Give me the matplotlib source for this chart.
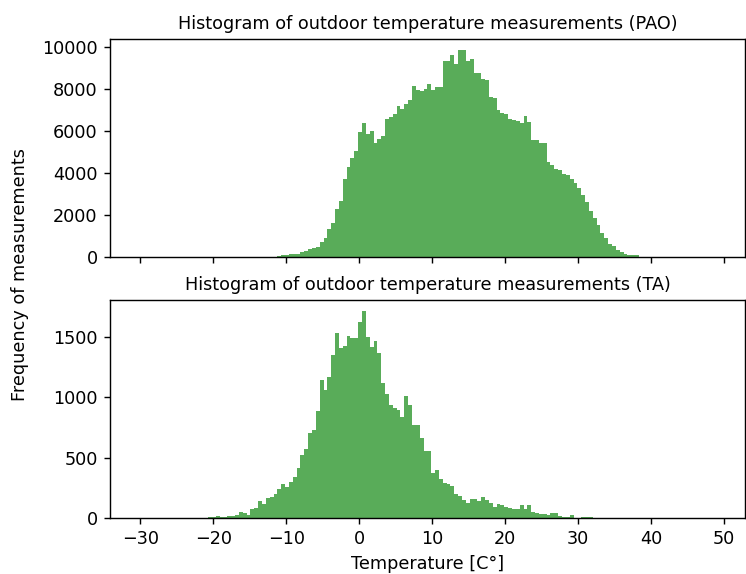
import numpy as np
import matplotlib
matplotlib.use("Agg")
import matplotlib.pyplot as plt

# shared binning of both histograms (150 bins)
bin_edges = np.linspace(-30.2, 48.85, 151)

# PAO counts, starting at bin index 36
pao_first_bin = 36
pao_counts = [40, 70, 110, 120, 125, 135, 240, 300, 360, 420,
              470, 730, 920, 1340, 1610, 2280, 2640, 3680, 4250, 4690,
              5040, 5940, 6350, 5860, 5990, 5400, 5620, 5750, 6540, 6650,
              6800, 7160, 7040, 7260, 7450, 8140, 7940, 7900, 7990, 8200,
              7940, 8090, 8060, 9290, 9320, 9590, 9170, 9850, 9850, 9300,
              9420, 8750, 8740, 8450, 8430, 7580, 7570, 6980, 6850, 6790,
              6540, 6520, 6480, 6350, 6710, 6400, 5560, 5550, 5430, 5420,
              4530, 4380, 4170, 4140, 3930, 3870, 3700, 3510, 3270, 2950,
              2590, 2160, 1850, 1530, 1140, 900, 630, 505, 350, 220,
              140, 95, 80, 70]

# TA counts, starting at bin index 18
ta_first_bin = 18
ta_counts = [5, 4, 16, 11, 12, 16, 18, 27, 49, 38,
             22, 71, 82, 137, 115, 165, 176, 195, 236, 280,
             258, 299, 341, 412, 522, 571, 703, 725, 884, 1143,
             1060, 1165, 1352, 1530, 1404, 1426, 1508, 1486, 1486, 1623,
             1714, 1500, 1415, 1464, 1362, 1115, 1027, 937, 912, 890,
             835, 1005, 937, 772, 772, 665, 552, 552, 376, 396,
             321, 291, 277, 266, 198, 181, 148, 126, 157, 157,
             143, 170, 148, 126, 93, 115, 104, 88, 80, 71,
             71, 104, 77, 104, 49, 38, 30, 30, 22, 38,
             44, 16, 11, 11, 22, 3, 3, 11, 11, 8]

titles = ["Histogram of outdoor temperature measurements (PAO)",
          "Histogram of outdoor temperature measurements (TA)"]

centers = (bin_edges[:-1] + bin_edges[1:]) / 2


def full_counts(first, counts):
    w = np.zeros(len(centers))
    w[first:first + len(counts)] = counts
    return w


fig, (ax1, ax2) = plt.subplots(2, 1, sharex=True, figsize=(746 / 127, 574 / 127), dpi=127)
fig.subplots_adjust(left=0.1475, right=0.9983, bottom=0.0976, top=0.9315, hspace=0.2)

ax1.hist(centers, bins=bin_edges, weights=full_counts(pao_first_bin, pao_counts),
         color="g", alpha=0.65)
ax1.set_title(titles[0], fontsize=10)

ax2.hist(centers, bins=bin_edges, weights=full_counts(ta_first_bin, ta_counts),
         color="g", alpha=0.65)
ax2.set_title(titles[1], fontsize=10)
ax2.set_xlabel("Temperature [C°]")

fig.text(0.027, 0.521, "Frequency of measurements", rotation=90, va="center", ha="center")

fig.savefig("out.png", dpi=127)
